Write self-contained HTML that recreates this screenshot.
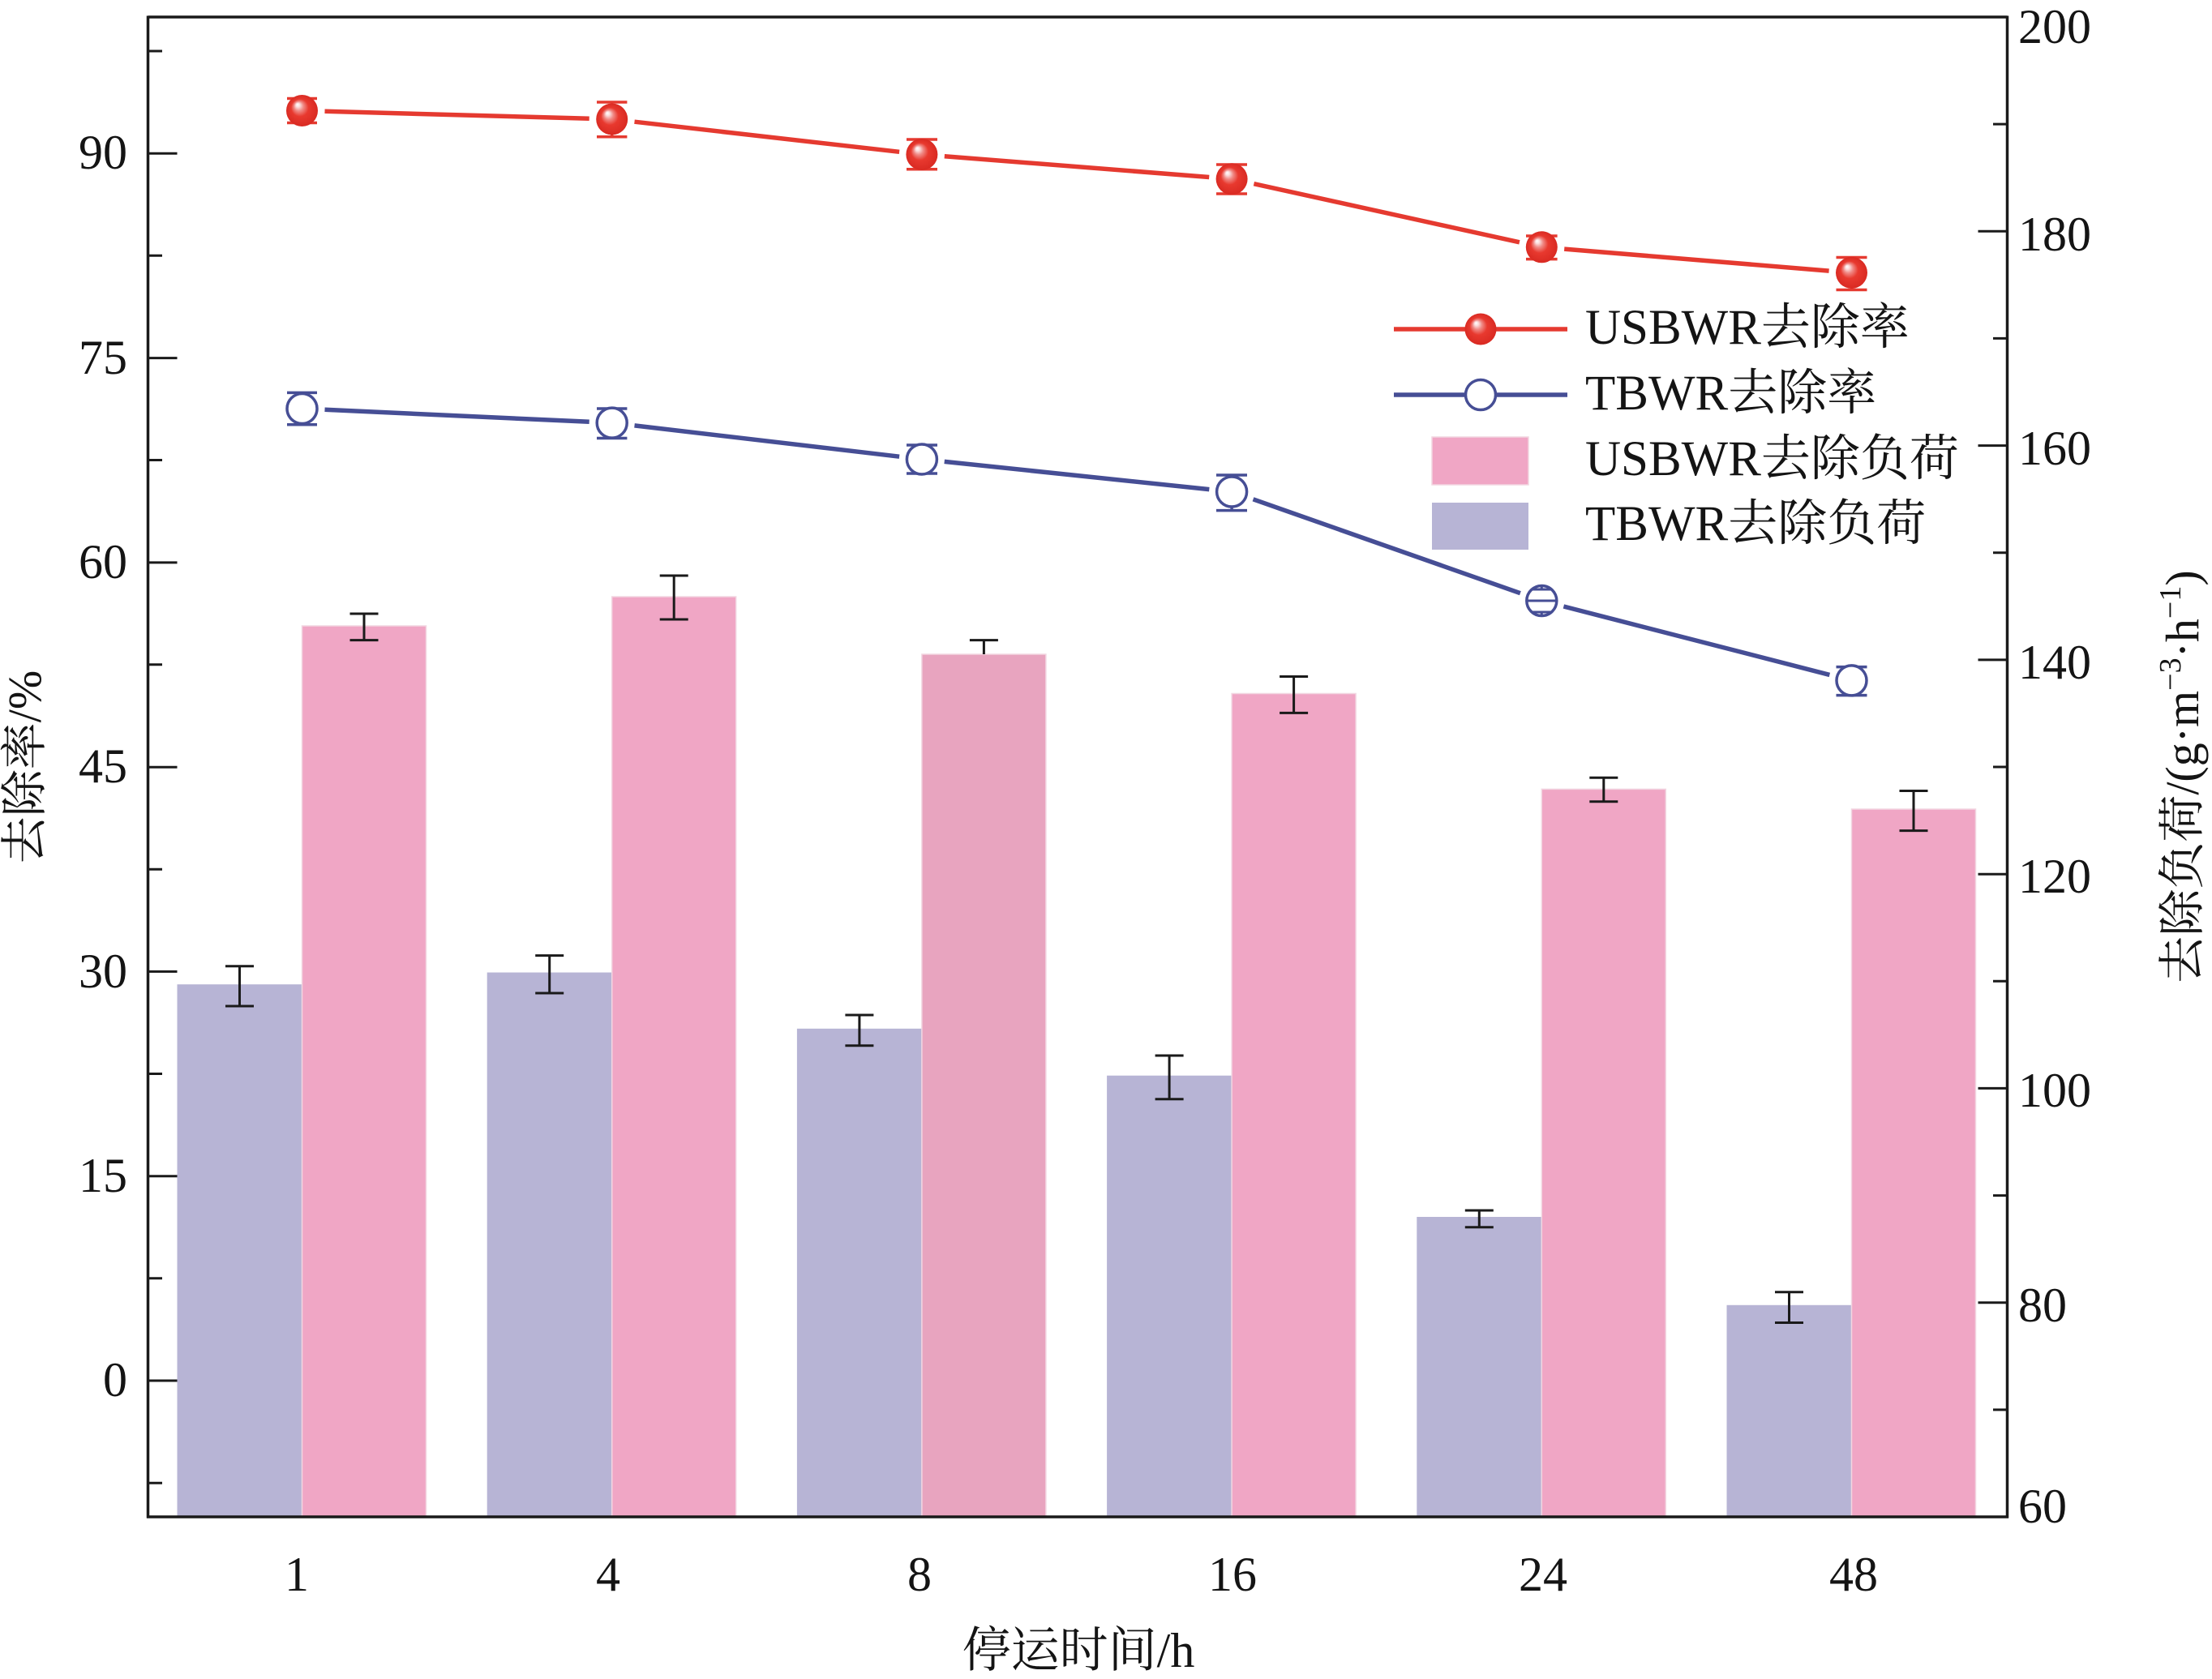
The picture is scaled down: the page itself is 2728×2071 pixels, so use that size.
<!DOCTYPE html>
<html>
<head>
<meta charset="utf-8">
<style>
  html,body{margin:0;padding:0;background:#fff;}
  svg{display:block;}
  text{font-family:"Liberation Serif","Noto Serif CJK SC",serif;fill:#141414;}
</style>
</head>
<body>
<svg width="2728" height="2071" viewBox="0 0 2728 2071" xmlns="http://www.w3.org/2000/svg">
  <defs>
    <radialGradient id="rg" cx="0.5" cy="0.5" r="0.5" fx="0.35" fy="0.3">
      <stop offset="0" stop-color="#ffffff"/>
      <stop offset="0.12" stop-color="#fbe0e0"/>
      <stop offset="0.3" stop-color="#f08a86"/>
      <stop offset="0.55" stop-color="#e8392f"/>
      <stop offset="1" stop-color="#d92a22"/>
    </radialGradient>
  </defs>
  <rect width="2728" height="2071" fill="#fff"/>

  <!-- Lavender bars (TBWR load) -->
  <g fill="#b7b4d5">
    <rect x="218.5" y="1214.2" width="154" height="656.8"/>
    <rect x="600.7" y="1199.5" width="154" height="671.5"/>
    <rect x="982.9" y="1268.8" width="154" height="602.2"/>
    <rect x="1365.1" y="1326.7" width="154" height="544.3"/>
    <rect x="1747.3" y="1501" width="154" height="370"/>
    <rect x="2129.5" y="1609.8" width="154" height="261.2"/>
  </g>
  <!-- Pink bars (USBWR load) -->
  <g fill="#f0a6c5" stroke="#f2d6e1" stroke-width="1.5">
    <rect x="372.5" y="772" width="153" height="1099"/>
    <rect x="754.7" y="736" width="153" height="1135"/>
    <rect x="1136.9" y="807" width="153" height="1064" fill="#e8a4bf"/>
    <rect x="1519.1" y="855.5" width="153" height="1015.5"/>
    <rect x="1901.3" y="973.4" width="153" height="897.6"/>
    <rect x="2283.5" y="998" width="153" height="873"/>
  </g>

  <!-- bar error bars -->
  <g stroke="#1a1a1a" stroke-width="3" fill="none">
    <path d="M449 757V789.6M431.5 757H466.5M431.5 789.6H466.5"/>
    <path d="M831.2 710V764M813.7 710H848.7M813.7 764H848.7"/>
    <path d="M1213.4 789.6V807M1195.9 789.6H1230.9"/>
    <path d="M1595.6 834.5V879.4M1578.1 834.5H1613.1M1578.1 879.4H1613.1"/>
    <path d="M1977.8 959.3V988.8M1960.3 959.3H1995.3M1960.3 988.8H1995.3"/>
    <path d="M2360 975.5V1024.6M2342.5 975.5H2377.5M2342.5 1024.6H2377.5"/>
    <path d="M295.5 1191.8V1241M278 1191.8H313M278 1241H313"/>
    <path d="M677.7 1178.6V1225M660.2 1178.6H695.2M660.2 1225H695.2"/>
    <path d="M1059.9 1252V1289.7M1042.4 1252H1077.4M1042.4 1289.7H1077.4"/>
    <path d="M1442.1 1302V1355.7M1424.6 1302H1459.6M1424.6 1355.7H1459.6"/>
    <path d="M1824.3 1493V1513.8M1806.8 1493H1841.8M1806.8 1513.8H1841.8"/>
    <path d="M2206.5 1593.7V1631.5M2189 1593.7H2224M2189 1631.5H2224"/>
  </g>

  <!-- Red line -->
  <g stroke="#e53a30" stroke-width="5.5" fill="none">
    <line x1="400.5" y1="137.3" x2="726.7" y2="146.2"/>
    <line x1="782.5" y1="150.2" x2="1109.1" y2="187.3"/>
    <line x1="1164.8" y1="192.7" x2="1491.2" y2="218.5"/>
    <line x1="1546.4" y1="226.7" x2="1873.9" y2="298.8"/>
    <line x1="1929.2" y1="307.1" x2="2255.6" y2="334.1"/>
  </g>
  <!-- Blue line -->
  <g stroke="#464e95" stroke-width="5.5" fill="none">
    <line x1="400.5" y1="505.3" x2="726.7" y2="520.3"/>
    <line x1="782.5" y1="524.9" x2="1109.1" y2="563.2"/>
    <line x1="1164.7" y1="569.4" x2="1491.3" y2="603.6"/>
    <line x1="1545.5" y1="615.8" x2="1874.9" y2="731.7"/>
    <line x1="1928.4" y1="748" x2="2256.4" y2="832.4"/>
  </g>

  <!-- Red error bars -->
  <g stroke="#e53a30" stroke-width="3.5" fill="none">
    <path d="M372.5 121.5V151.5M354 121.5H391M354 151.5H391"/>
    <path d="M754.7 126V168.7M736 126H773.4M736 168.7H773.4"/>
    <path d="M1136.9 172V208.7M1118 172H1156M1118 208.7H1156"/>
    <path d="M1519.1 203V239M1500 203H1538M1500 239H1538"/>
    <path d="M1901.3 291V319.6M1882 291H1920.6M1882 319.6H1920.6"/>
    <path d="M2283.5 317.5V357.5M2264.5 317.5H2302.5M2264.5 357.5H2302.5"/>
  </g>
  <!-- Red markers -->
  <g fill="url(#rg)">
    <circle cx="372.5" cy="136.5" r="19.5"/>
    <circle cx="754.7" cy="147" r="19.5"/>
    <circle cx="1136.9" cy="190.5" r="19.5"/>
    <circle cx="1519.1" cy="220.7" r="19.5"/>
    <circle cx="1901.3" cy="304.8" r="19.5"/>
    <circle cx="2283.5" cy="336.4" r="19.5"/>
  </g>

  <!-- Blue error bars -->
  <g stroke="#464e95" stroke-width="3.5" fill="none">
    <path d="M372.5 484.4V523.7M354 484.4H391M354 523.7H391"/>
    <path d="M754.7 504V540.5M736 504H773.4M736 540.5H773.4"/>
    <path d="M1136.9 549V584M1118 549H1156M1118 584H1156"/>
    <path d="M1519.1 586V629.6M1500 586H1538M1500 629.6H1538"/>
    <path d="M2283.5 822.6V857.6M2264.5 822.6H2302.5M2264.5 857.6H2302.5"/>
  </g>
  <!-- Blue markers -->
  <g fill="#fff" stroke="#464e95" stroke-width="3.5">
    <circle cx="372.5" cy="504" r="18.5"/>
    <circle cx="754.7" cy="521.6" r="18.5"/>
    <circle cx="1136.9" cy="566.5" r="18.5"/>
    <circle cx="1519.1" cy="606.5" r="18.5"/>
    <circle cx="1901.3" cy="741" r="18.5"/>
    <circle cx="2283.5" cy="839.4" r="18.5"/>
  </g>
  <g stroke="#464e95" stroke-width="3" fill="none">
    <path d="M1888 727H1914.6M1888 755H1914.6M1883 741H1919.6M1901.3 723V727M1901.3 755V759"/>
  </g>

  <!-- Frame / axes -->
  <g stroke="#1a1a1a" stroke-width="3.5" fill="none">
    <path d="M182.5 21H2475.5"/>
    <path d="M182.5 19.5V1872.5"/>
    <path d="M2475.5 19.5V1872.5"/>
    <path d="M181 1871H2477"/>
  </g>
  <!-- Left ticks -->
  <g stroke="#1a1a1a" stroke-width="3" fill="none">
    <path d="M182.5 189.3H218.5M182.5 441.6H218.5M182.5 693.9H218.5M182.5 946.2H218.5M182.5 1198.4H218.5M182.5 1450.7H218.5M182.5 1703H218.5"/>
    <path d="M182.5 63H200M182.5 315.2H200M182.5 567.5H200M182.5 819.8H200M182.5 1072.2H200M182.5 1324.5H200M182.5 1576.8H200M182.5 1829.2H200"/>
  </g>
  <!-- Right ticks -->
  <g stroke="#1a1a1a" stroke-width="3" fill="none">
    <path d="M2475.5 285.3H2439.5M2475.5 549.6H2439.5M2475.5 813.9H2439.5M2475.5 1078.2H2439.5M2475.5 1342.4H2439.5M2475.5 1606.7H2439.5"/>
    <path d="M2475.5 153.1H2458M2475.5 417.4H2458M2475.5 681.7H2458M2475.5 946H2458M2475.5 1210.3H2458M2475.5 1474.6H2458M2475.5 1738.9H2458"/>
  </g>

  <!-- Left tick labels -->
  <g font-size="60" text-anchor="end">
    <text x="157" y="208">90</text>
    <text x="157" y="461">75</text>
    <text x="157" y="713">60</text>
    <text x="157" y="965">45</text>
    <text x="157" y="1218">30</text>
    <text x="157" y="1470">15</text>
    <text x="157" y="1722">0</text>
  </g>
  <!-- Right tick labels -->
  <g font-size="60" text-anchor="start">
    <text x="2489" y="53">200</text>
    <text x="2489" y="309">180</text>
    <text x="2489" y="573">160</text>
    <text x="2489" y="837">140</text>
    <text x="2489" y="1101">120</text>
    <text x="2489" y="1365">100</text>
    <text x="2489" y="1630">80</text>
    <text x="2489" y="1878">60</text>
  </g>
  <!-- X tick labels -->
  <g font-size="60" text-anchor="middle">
    <text x="366" y="1962">1</text>
    <text x="750" y="1962">4</text>
    <text x="1134" y="1962">8</text>
    <text x="1520" y="1962">16</text>
    <text x="1903" y="1962">24</text>
    <text x="2286" y="1962">48</text>
  </g>

  <!-- Axis titles -->
  <text x="1330" y="2056" font-size="60" text-anchor="middle">停运时间/h</text>
  <text transform="translate(50,946) rotate(-90)" font-size="58" text-anchor="middle">去除率/%</text>
  <text transform="translate(2711,958) rotate(-90)" font-size="58" text-anchor="middle">去除负荷/(g·m<tspan font-size="38" dy="-22">−3</tspan><tspan dy="22">·h</tspan><tspan font-size="38" dy="-22">−1</tspan><tspan dy="22">)</tspan></text>

  <!-- Legend -->
  <line x1="1719" y1="406" x2="1933" y2="406" stroke="#e53a30" stroke-width="5.5"/>
  <circle cx="1826" cy="406" r="19.5" fill="url(#rg)"/>
  <line x1="1719" y1="487" x2="1933" y2="487" stroke="#464e95" stroke-width="5.5"/>
  <circle cx="1826" cy="487" r="18.5" fill="#fff" stroke="#464e95" stroke-width="3.5"/>
  <rect x="1766" y="539" width="119" height="59" fill="#f0a6c5" stroke="#f2d6e1" stroke-width="1.5"/>
  <rect x="1766" y="620" width="119" height="58" fill="#b7b4d5"/>
  <g font-size="61">
    <text x="1955" y="424">USBWR去除率</text>
    <text x="1955" y="505">TBWR去除率</text>
    <text x="1955" y="586">USBWR去除负荷</text>
    <text x="1955" y="666">TBWR去除负荷</text>
  </g>
</svg>
</body>
</html>
